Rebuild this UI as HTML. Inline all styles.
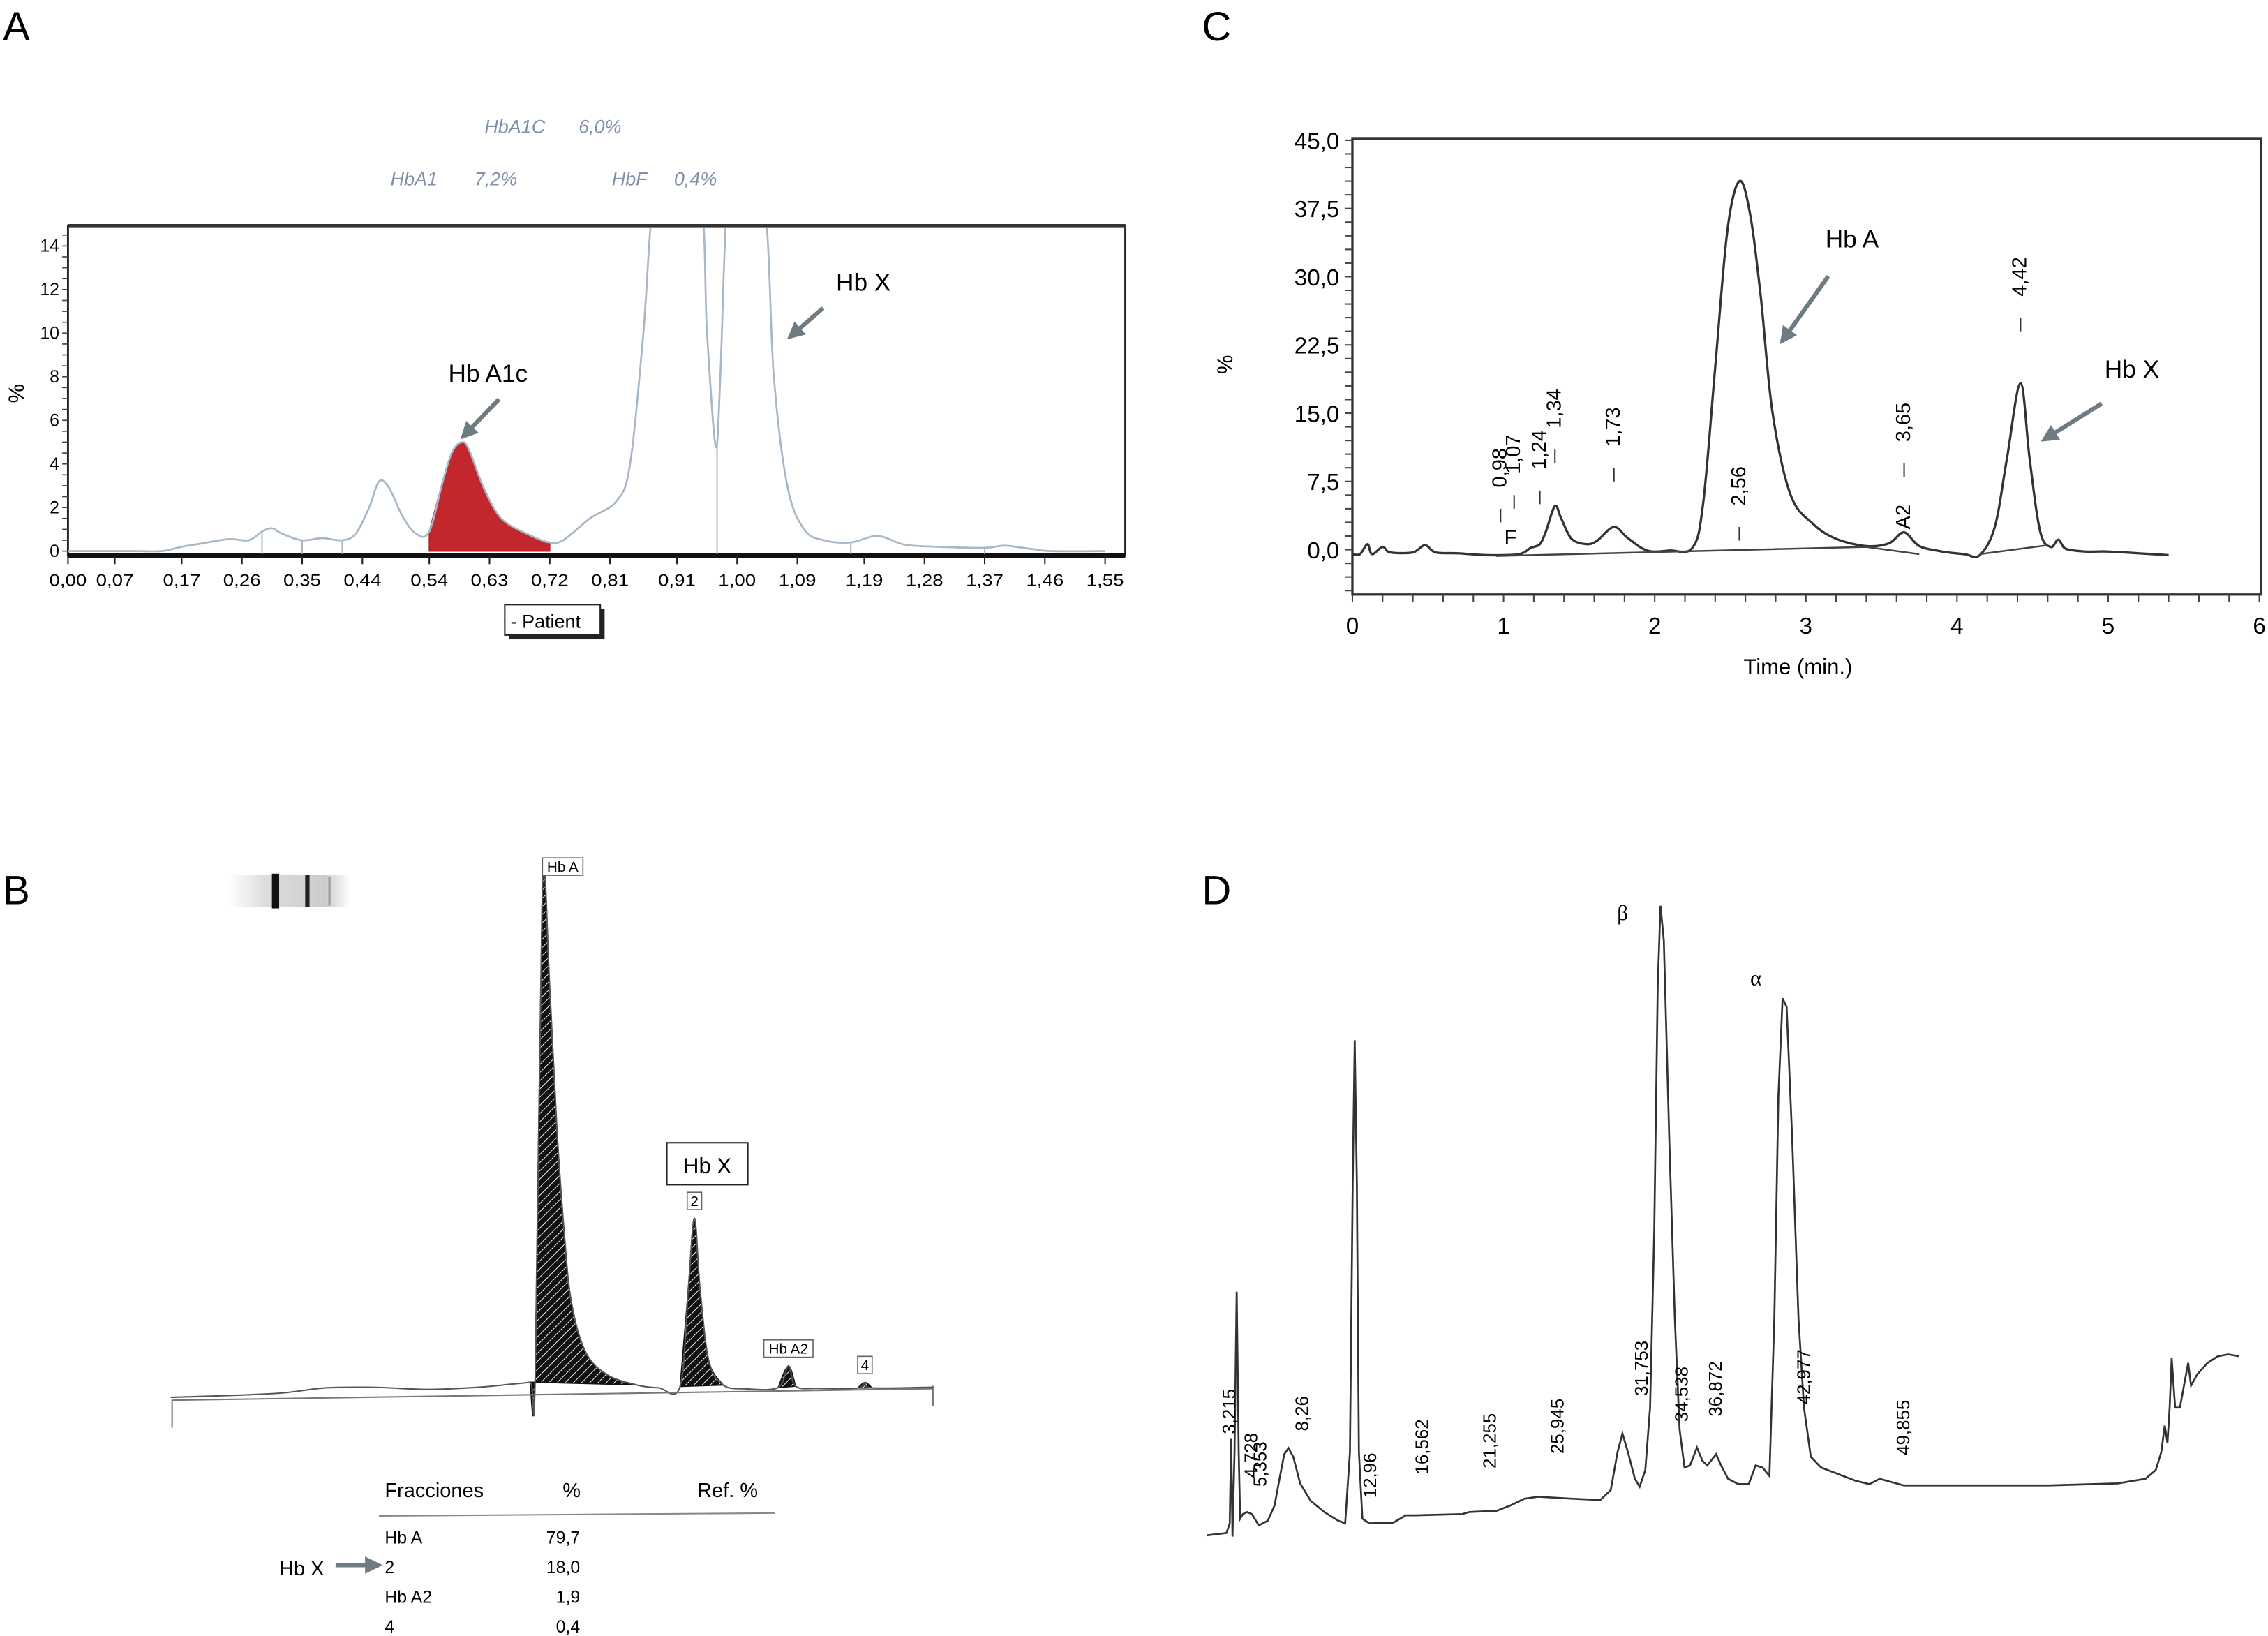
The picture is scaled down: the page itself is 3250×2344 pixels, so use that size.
<!DOCTYPE html>
<html><head><meta charset="utf-8"><style>
html,body{margin:0;padding:0;background:#fff;}
svg{display:block;font-family:"Liberation Sans",sans-serif;}
</style></head><body>
<svg id="fig" width="3250" height="2344" viewBox="0 0 1568 1131" preserveAspectRatio="none" xmlns="http://www.w3.org/2000/svg">
<defs>
<pattern id="hatch" width="4" height="4" patternUnits="userSpaceOnUse" patternTransform="rotate(45)">
<rect width="4" height="4" fill="#111"/><line x1="0" y1="0" x2="0" y2="4" stroke="#fff" stroke-width="0.9"/>
</pattern>
<clipPath id="clipA"><rect x="47" y="157" width="731" height="227"/></clipPath>
<linearGradient id="gel" x1="0" x2="1"><stop offset="0" stop-color="#fff"/><stop offset="0.3" stop-color="#ddd"/><stop offset="0.8" stop-color="#ccc"/><stop offset="1" stop-color="#fff"/></linearGradient>
<marker id="arr" viewBox="0 0 10 10" refX="8" refY="5" markerWidth="4" markerHeight="4" orient="auto"><path d="M0,0 L10,5 L0,10 z" fill="#6e7c82"/></marker>
</defs>

<text x="2" y="28" font-size="28">A</text>
<text x="831" y="28" font-size="28">C</text>
<text x="2" y="625" font-size="28">B</text>
<text x="831" y="625" font-size="28">D</text>

<g id="panelA">
<text x="335" y="92" font-size="13" font-style="italic" fill="#8090aa">HbA1C</text>
<text x="400" y="92" font-size="13" font-style="italic" fill="#8090aa">6,0%</text>
<text x="270" y="128" font-size="13" font-style="italic" fill="#8090aa">HbA1</text>
<text x="328" y="128" font-size="13" font-style="italic" fill="#8090aa">7,2%</text>
<text x="423" y="128" font-size="13" font-style="italic" fill="#8090aa">HbF</text>
<text x="466" y="128" font-size="13" font-style="italic" fill="#8090aa">0,4%</text>
<rect x="47" y="156" width="731" height="228" fill="none" stroke="#222" stroke-width="1.4"/>
<line x1="47" y1="156" x2="778" y2="156" stroke="#333" stroke-width="2.2"/>
<line x1="47" y1="384" x2="778" y2="384" stroke="#111" stroke-width="3"/>
<text x="6" y="272" font-size="15" transform="rotate(90 6 272)" text-anchor="middle">%</text>
<text x="310" y="264" font-size="17">Hb A1c</text>
<line x1="345" y1="276" x2="320" y2="302" stroke="#6e7c82" stroke-width="3" marker-end="url(#arr)"/>
<text x="578" y="201" font-size="17">Hb X</text>
<line x1="569" y1="213" x2="546" y2="233" stroke="#6e7c82" stroke-width="3" marker-end="url(#arr)"/>
<rect x="352" y="421" width="66" height="21" fill="#222"/>
<rect x="349" y="418" width="66" height="21" fill="#fff" stroke="#222" stroke-width="1"/>
<text x="353" y="434" font-size="13">- Patient</text>
</g>

<g id="panelC">
<rect x="935" y="96" width="628" height="315" fill="none" stroke="#333" stroke-width="1.6"/>
<text x="852" y="252" font-size="15" transform="rotate(-90 852 252)" text-anchor="middle">%</text>
<text x="1243" y="466" font-size="15" text-anchor="middle">Time (min.)</text>
<text x="1262" y="171" font-size="17">Hb A</text>
<line x1="1264" y1="191" x2="1232" y2="236" stroke="#6e7c82" stroke-width="3" marker-end="url(#arr)"/>
<text x="1455" y="261" font-size="17">Hb X</text>
<line x1="1453" y1="279" x2="1413" y2="304" stroke="#6e7c82" stroke-width="3" marker-end="url(#arr)"/>
<text x="1040" y="376" font-size="14">F</text>
</g>

<g id="panelB">
<rect x="158" y="605" width="84" height="22" fill="url(#gel)"/>
<rect x="188" y="604" width="5" height="24" fill="#111"/>
<rect x="211" y="605" width="3" height="22" fill="#222"/>
<rect x="227" y="606" width="1.5" height="20" fill="#999"/>
<line x1="119" y1="968" x2="119" y2="987" stroke="#777" stroke-width="1"/>
<line x1="645" y1="958" x2="645" y2="972" stroke="#777" stroke-width="1"/>
<rect x="461" y="790" width="56" height="29" fill="#fff" stroke="#222" stroke-width="1"/>
<text x="489" y="811" font-size="15" text-anchor="middle">Hb X</text>
<text x="266" y="1035" font-size="14">Fracciones</text>
<text x="389" y="1035" font-size="14">%</text>
<text x="482" y="1035" font-size="14">Ref. %</text>
<line x1="262" y1="1048" x2="536" y2="1046" stroke="#888" stroke-width="1"/>
<text x="193" y="1089" font-size="14">Hb X</text>
<line x1="232" y1="1082" x2="262" y2="1082" stroke="#6e7c82" stroke-width="3" marker-end="url(#arr)"/>
</g>

<g id="panelD">
<text x="1118" y="636" font-size="15" font-family="Liberation Serif,serif">β</text>
<text x="1210" y="681" font-size="15" font-family="Liberation Serif,serif">α</text>
</g>
</svg>
<script>
const NS='http://www.w3.org/2000/svg';
const svg=document.getElementById('fig');
// ---------- Panel A data ----------
const aTime=[0,0.05,0.10,0.14,0.17,0.20,0.24,0.27,0.29,0.305,0.32,0.35,0.38,0.41,0.43,0.45,0.465,0.48,0.50,0.52,0.54,0.56,0.575,0.59,0.60,0.62,0.64,0.66,0.70,0.72,0.74,0.78,0.82,0.84,0.86,0.875,0.90,0.945,0.955,0.968,0.975,0.985,1.00,1.04,1.055,1.075,1.10,1.13,1.17,1.21,1.25,1.30,1.37,1.40,1.44,1.47,1.55];
const aPercent=[0,0,0,0,0.2,0.35,0.55,0.5,0.9,1.05,0.8,0.5,0.6,0.5,0.8,2.0,3.2,2.9,1.6,0.8,0.9,3.2,4.6,5.0,4.6,3.0,1.8,1.2,0.6,0.4,0.5,1.5,2.3,4.0,10,16,16,16,10,4.8,8,16,16,16,8,3,1,0.5,0.4,0.7,0.3,0.2,0.15,0.25,0.1,0,0];
const aXTicks=['0,00','0,07','0,17','0,26','0,35','0,44','0,54','0,63','0,72','0,81','0,91','1,00','1,09','1,19','1,28','1,37','1,46','1,55'];
const aYTicks=[0,2,4,6,8,10,12,14];
const aDropLines=[0.29,0.35,0.41,0.97,1.17,1.37];
const aA1cRange=[0.54,0.72];
const xA=v=>47+v*462.6, yA=v=>381-v*15.07;

function mk(tag,attrs,parent){const e=document.createElementNS(NS,tag);for(const k in attrs)e.setAttribute(k,attrs[k]);(parent||svg).appendChild(e);return e;}
function pth(xs,ys,fx,fy){return xs.map((v,i)=>(i?'L':'M')+fx(v).toFixed(1)+' '+fy(ys[i]).toFixed(1)).join(' ');}
function smoothP(P){let d='M'+P[0][0].toFixed(1)+' '+P[0][1].toFixed(1);
for(let i=0;i<P.length-1;i++){const p0=P[Math.max(0,i-1)],p1=P[i],p2=P[i+1],p3=P[Math.min(P.length-1,i+2)];
const c1=[p1[0]+(p2[0]-p0[0])/6,p1[1]+(p2[1]-p0[1])/6],c2=[p2[0]-(p3[0]-p1[0])/6,p2[1]-(p3[1]-p1[1])/6];
d+=' C'+c1[0].toFixed(1)+' '+c1[1].toFixed(1)+' '+c2[0].toFixed(1)+' '+c2[1].toFixed(1)+' '+p2[0].toFixed(1)+' '+p2[1].toFixed(1);}return d;}
function smooth(xs,ys,fx,fy){return smoothP(xs.map((v,i)=>[fx(v),fy(ys[i])]));}
const gA=document.getElementById('panelA');
{const fx=[],fy=[];aTime.forEach((t,i)=>{if(t>=aA1cRange[0]&&t<=aA1cRange[1]){fx.push(t);fy.push(aPercent[i]);}});
let d=smooth(fx,fy,xA,yA)+' L'+xA(aA1cRange[1])+' '+yA(0)+' L'+xA(aA1cRange[0])+' '+yA(0)+' Z';
const e=mk('path',{d:d,fill:'#c1272d',stroke:'#b02026','stroke-width':'0.8','clip-path':'url(#clipA)'},gA);

}
{const e=mk('path',{d:smooth(aTime,aPercent,xA,yA),fill:'none',stroke:'#a7b7c6','stroke-width':'1.3','clip-path':'url(#clipA)'},gA);

}
aDropLines.forEach(t=>{let i=aTime.findIndex(v=>v>=t);let h=t===0.97?4.8:aPercent[i];
const e=mk('line',{x1:xA(t),x2:xA(t),y1:yA(0)+2,y2:yA(h),stroke:'#a7b7c6','stroke-width':'1'},gA);

});
aXTicks.forEach(s=>{const v=parseFloat(s.replace(',','.'));
const t=mk('line',{x1:xA(v),x2:xA(v),y1:384,y2:390,stroke:'#222','stroke-width':'1'},gA);


const e=mk('text',{x:xA(v),y:405,'font-size':'11.5','text-anchor':'middle',textLength:'26',lengthAdjust:'spacingAndGlyphs'},gA);e.textContent=s;

});
for(let v=0;v<=14.9;v+=0.5){const m=mk('line',{x1:43,x2:47,y1:yA(v),y2:yA(v),stroke:'#444','stroke-width':'0.8'},gA);

}
aYTicks.forEach(v=>{const e=mk('text',{x:41,y:yA(v)+4,'font-size':'12','text-anchor':'end'},gA);e.textContent=v;

});

// ---------- Panel C data ----------
const cTime=[0,0.05,0.1,0.13,0.2,0.25,0.4,0.48,0.55,0.7,0.9,1.1,1.18,1.24,1.28,1.34,1.38,1.45,1.55,1.62,1.73,1.82,1.95,2.1,2.25,2.32,2.4,2.48,2.56,2.63,2.7,2.78,2.9,3.05,3.2,3.4,3.55,3.65,3.75,3.9,4.05,4.15,4.25,4.33,4.42,4.48,4.55,4.62,4.67,4.72,4.85,5.0,5.2,5.4];
const cPercent=[-0.5,-0.5,0.6,-0.5,0.3,-0.3,-0.3,0.5,-0.3,-0.4,-0.6,-0.5,0.2,0.6,2.0,4.8,3.5,1.2,0.6,1.0,2.5,1.3,-0.1,-0.1,0.2,5,20,35,40.5,37,28,15,6,2.8,1.2,0.4,0.7,1.9,0.4,-0.2,-0.5,-0.6,2.5,10,18.3,10,2,0.3,1.1,0.1,-0.2,-0.2,-0.4,-0.6];
const cBaseTime=[0.95,3.4,3.75], cBaseVal=[-0.7,0.3,-0.5];
const cBase2Time=[4.15,4.6], cBase2Val=[-0.5,0.5];
const cYTicks=['0,0','7,5','15,0','22,5','30,0','37,5','45,0'];
const cXTicks=[0,1,2,3,4,5,6];
const cPeakTimes=['0,98','1,07','1,24','1,34','1,73','2,56','3,65','4,42'];
const cPeakLabelY=[9,10.5,11,15.5,13.5,7,14,30];
const xC=v=>935+v*104.5, yC=v=>380-v*6.29;
const gC=document.getElementById('panelC');
{const e=mk('path',{d:smooth(cTime,cPercent,xC,yC),fill:'none',stroke:'#333','stroke-width':'1.6'},gC);

}
{const e=mk('path',{d:pth(cBaseTime,cBaseVal,xC,yC),fill:'none',stroke:'#444','stroke-width':'1.2'},gC);

}
{const e=mk('path',{d:pth(cBase2Time,cBase2Val,xC,yC),fill:'none',stroke:'#444','stroke-width':'1.2'},gC);

}
cYTicks.forEach(s=>{const v=parseFloat(s.replace(',','.'));
const e=mk('text',{x:926,y:yC(v)+6,'font-size':'16','text-anchor':'end'},gC);e.textContent=s;

});
for(let v=-4.5;v<=45;v+=1.5){const m=mk('line',{x1:930,x2:935,y1:yC(v),y2:yC(v),stroke:'#444','stroke-width':'1'},gC);

}
cXTicks.forEach(v=>{const e=mk('text',{x:xC(v),y:438,'font-size':'16','text-anchor':'middle'},gC);e.textContent=v;

});
for(let v=0;v<=6.01;v+=0.2){const m=mk('line',{x1:xC(v),x2:xC(v),y1:411,y2:416,stroke:'#444','stroke-width':'1'},gC);

}
cPeakTimes.forEach((s,i)=>{const t=parseFloat(s.replace(',','.'));const x=xC(t)+4,y=yC(cPeakLabelY[i]);
const e=mk('text',{x:x,y:y,'font-size':'14','text-anchor':'middle',transform:`rotate(-90 ${x} ${y})`},gC);e.textContent=s;


const dsh=mk('line',{x1:xC(t),x2:xC(t),y1:yC(cPeakLabelY[i]-4.5),y2:yC(cPeakLabelY[i]-6),stroke:'#333','stroke-width':'1'},gC);

});
{const x=xC(3.65)+4,y=yC(3.6);const e=mk('text',{x:x,y:y,'font-size':'14','text-anchor':'middle',transform:`rotate(-90 ${x} ${y})`},gC);e.textContent='A2';

}

// ---------- Panel B data ----------
const bPos=[0,20,30,40,50,60,66,70,71.0,72.4,73.8,75.2,76.6,78.0,80.8,85.1,90.7,95,99.2,100.8,102.0,103.1,104.8,107.6,112,118.3,120.3,121.7,126,133.8,135.2,136.6,148.5];
const bHeight=[0,0.5,1.5,1.5,1.0,1.3,1.8,2.2,3,100,80,52,32,18,8,3.4,1.4,0.8,1.0,20,34,20,6,1.2,0.4,0.6,4.8,0.8,0.3,0.3,1.4,0.3,0.3];
const bShaded=[[70,90.7],[99.2,107.6],[118.3,121.7],[133.8,136.6]];
const bLabels=['Hb A','2','Hb A2','4'], bLabelPos=[72.4,102.0,120.3,135.2];
const xB=p=>118+p*3.55, yB=(h,p)=>(966-p*0.04)-h*3.52;
const gB=document.getElementById('panelB');
bShaded.forEach(r=>{const P=[];bPos.forEach((p,i)=>{if(p>=r[0]&&p<=r[1]){P.push([xB(p),yB(bHeight[i],p)]);}});
const d=smoothP(P)+' Z';
const e=mk('path',{d:d,fill:'url(#hatch)',stroke:'#111','stroke-width':'0.8'},gB);

});
{const d=smoothP(bPos.map((p,i)=>[xB(p),yB(bHeight[i],p)]));
const e=mk('path',{d:d,fill:'none',stroke:'#555','stroke-width':'1'},gB);

}
{const e=mk('line',{x1:119,y1:968,x2:645,y2:960,stroke:'#777','stroke-width':'1'},gB);

}
bLabels.forEach((s,i)=>{const p=bLabelPos[i];const hi=bPos.indexOf(p);const top=yB(bHeight[hi],p);
const w=s.length*6+4;const off=(i==0?14:0);const e=mk('rect',{x:xB(p)-w/2+off,y:top-18,width:w,height:12,fill:'#fff',stroke:'#666','stroke-width':'0.8'},gB);


const t=mk('text',{x:xB(p)+off,y:top-8.5,'font-size':'10','text-anchor':'middle'},gB);t.textContent=s;

});
const tFractions=['Hb A','2','Hb A2','4'], tPercents=['79,7','18,0','1,9','0,4'];
tFractions.forEach((s,i)=>{const y=1067+i*20.5;
const a=mk('text',{x:266,y:y,'font-size':'12'},gB);a.textContent=s;


const b=mk('text',{x:401,y:y,'font-size':'12','text-anchor':'end'},gB);b.textContent=tPercents[i];

});

// ---------- Panel D data ----------
const dTime=[1.66,3.00,3.24,3.34,3.43,3.57,3.72,3.86,3.96,4.15,4.43,4.77,5.25,5.87,6.34,6.68,7.01,7.30,7.63,8.11,8.83,9.78,10.74,11.22,11.55,11.74,11.88,12.03,12.17,12.41,12.89,14.56,15.42,15.99,19.33,19.81,21.72,22.67,23.63,24.58,26.97,28.88,29.60,30.07,30.41,30.79,31.27,31.60,31.99,32.32,32.61,32.85,33.04,33.28,33.66,34.04,34.37,34.71,35.09,35.57,35.95,36.28,36.90,37.24,37.72,38.43,39.15,39.63,40.10,40.58,40.92,41.20,41.49,41.77,42.16,42.59,42.97,43.45,44.16,45.36,46.55,47.50,48.22,48.70,49.89,52.76,59.92,64.70,66.61,67.32,67.70,67.94,68.13,68.28,68.42,68.66,68.99,69.33,69.56,69.76,70.19,70.90,71.62,72.34,73.05];
const dSignal=[-0.3,0.05,1.5,14.2,-0.5,12.2,36.3,12.2,2.2,2.9,3.2,2.9,1.2,1.9,4.2,8.2,11.9,12.8,11.5,7.5,4.9,3.2,1.9,1.5,12.2,52.3,74.1,52.3,12.2,2.2,1.5,1.6,2.7,2.7,2.9,3.2,3.4,4.2,5.2,5.5,5.2,5.0,6.5,12.2,15.0,12.2,8.2,7.0,9.5,18.9,45.7,82.4,94.3,89.1,59.0,32.3,15.6,9.9,10.2,12.9,10.9,10.2,11.9,10.2,8.2,7.4,7.4,10.2,9.9,8.6,32.3,65.7,80.4,79.1,59.0,32.3,18.9,11.5,9.9,8.9,7.9,7.4,8.2,7.9,7.2,7.2,7.2,7.5,8.2,9.5,12.2,16.2,13.6,18.9,26.3,18.9,18.9,22.9,25.6,22.2,23.9,25.6,26.6,26.9,26.6];
const dPeakLabels=['3,215','4,728','5,353','8,26','12,96','16,562','21,255','25,945','31,753','34,538','36,872','42,977','49,855'];
const dLabelHeight=[18.3,11.7,10.4,18.0,8.7,13.0,13.9,16.1,24.8,20.9,21.7,23.5,15.9];
const xD=t=>850+(t-3.215)*9.99, yD=s=>1060-s*4.6;
const gD=document.getElementById('panelD');
{const e=mk('path',{d:pth(dTime,dSignal,xD,yD),fill:'none',stroke:'#333','stroke-width':'1.3'},gD);

}
dPeakLabels.forEach((s,i)=>{const t=parseFloat(s.replace(',','.'));const x=xD(t)+4,y=yD(dLabelHeight[i]);
const e=mk('text',{x:x,y:y,'font-size':'12.5','text-anchor':'middle',transform:`rotate(-90 ${x} ${y})`},gD);e.textContent=s;

});
</script>
</body></html>
